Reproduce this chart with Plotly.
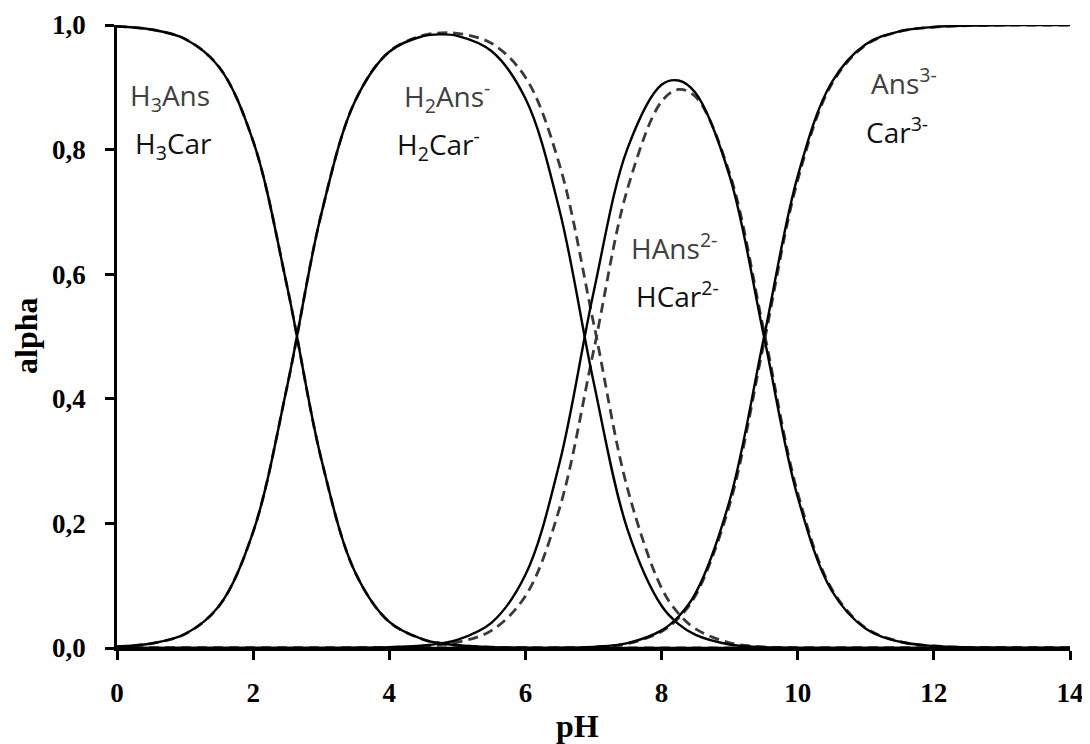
import plotly.graph_objects as go

# pH grid
ph_ans = [0, 0.5, 1, 1.5, 2, 2.5, 3, 3.5, 4, 4.5, 4.75, 5, 5.5, 6, 6.5, 7, 7.5, 8, 8.25, 8.5,
          9, 9.5, 10, 10.5, 11, 11.5, 12, 12.5, 13, 13.5, 14]
h3ans = [0.9977, 0.9928, 0.9776, 0.9324, 0.8136, 0.5798, 0.3038, 0.1212, 0.0418, 0.0136, 0.0076, 0.0043,
         0.0013, 0.0004, 0.0001, 0, 0, 0, 0, 0, 0, 0, 0, 0, 0, 0, 0, 0, 0, 0, 0]
h2ans = [0.0023, 0.0072, 0.0224, 0.0676, 0.1864, 0.4202, 0.6961, 0.8784, 0.9570, 0.9823, 0.9850, 0.9826,
         0.9582, 0.8819, 0.7031, 0.4278, 0.1902, 0.0678, 0.0384, 0.0211, 0.0057, 0.0012, 0.0002, 0, 0, 0,
         0, 0, 0, 0, 0]
hans = [0, 0, 0, 0, 0, 0, 0.0001, 0.0004, 0.0013, 0.0041, 0.0074, 0.0131, 0.0404, 0.1176, 0.2965, 0.5704,
        0.8019, 0.9040, 0.9109, 0.8908, 0.7575, 0.5023, 0.2423, 0.0919, 0.0310, 0.0100, 0.0032, 0.0010,
        0.0003, 0.0001, 0]
ans = [0, 0, 0, 0, 0, 0, 0, 0, 0, 0, 0, 0, 0, 0.00004, 0.0003, 0.0018, 0.0079, 0.0283, 0.0506, 0.0881,
       0.2368, 0.4965, 0.7575, 0.9081, 0.9690, 0.9900, 0.9968, 0.9990, 0.9997, 0.9999, 1.0]

ph_car = [0, 0.5, 1, 1.5, 2, 2.5, 3, 3.5, 4, 4.5, 4.75, 5, 5.5, 6, 6.5, 7, 7.5, 8, 8.25, 8.5,
          9, 9.5, 10, 10.5, 11, 11.5, 12, 12.5, 13, 13.5, 14]
h3car = [0.9977, 0.9928, 0.9776, 0.9324, 0.8136, 0.5798, 0.3038, 0.1212, 0.0418, 0.0136, 0.0077, 0.0043,
         0.0013, 0.0004, 0.0001, 0, 0, 0, 0, 0, 0, 0, 0, 0, 0, 0, 0, 0, 0, 0, 0]
h2car = [0.0023, 0.0072, 0.0224, 0.0676, 0.1864, 0.4202, 0.6961, 0.8785, 0.9573, 0.9836, 0.9873, 0.9867,
         0.9707, 0.9160, 0.7759, 0.5222, 0.2557, 0.0962, 0.0553, 0.0307, 0.0084, 0.0018, 0.0003, 0, 0, 0,
         0, 0, 0, 0, 0]
hcar = [0, 0, 0, 0, 0, 0, 0.0001, 0.0003, 0.0009, 0.0028, 0.0051, 0.0090, 0.0280, 0.0835, 0.2238, 0.4763,
        0.7373, 0.8773, 0.8966, 0.8848, 0.7617, 0.5106, 0.2487, 0.0948, 0.0321, 0.0104, 0.0033, 0.0010,
        0.0003, 0.0001, 0]
car = [0, 0, 0, 0, 0, 0, 0, 0, 0, 0, 0, 0, 0, 0, 0.0002, 0.0014, 0.0070, 0.0265, 0.0482, 0.0845,
       0.2300, 0.4876, 0.7510, 0.9052, 0.9679, 0.9896, 0.9967, 0.9990, 0.9997, 0.9999, 1.0]

x_ticks = [0, 2, 4, 6, 8, 10, 12, 14]
y_ticks = [0.0, 0.2, 0.4, 0.6, 0.8, 1.0]

labels_ans = ["H<sub>3</sub>Ans", "H<sub>2</sub>Ans<sup>-</sup>", "HAns<sup>2-</sup>", "Ans<sup>3-</sup>"]
labels_car = ["H<sub>3</sub>Car", "H<sub>2</sub>Car<sup>-</sup>", "HCar<sup>2-</sup>", "Car<sup>3-</sup>"]
label_ans_x = [0.78, 4.85, 8.18, 11.56]
label_ans_y = [0.885, 0.885, 0.645, 0.91]
label_car_x = [0.83, 4.72, 8.23, 11.46]
label_car_y = [0.808, 0.808, 0.567, 0.83]

fig = go.Figure()
for ys in [h2car, hcar, h3car, car]:
    fig.add_trace(go.Scatter(x=ph_car, y=ys, mode="lines", cliponaxis=False,
                             line=dict(color="#3a3a3a", width=2.8, dash="10px,6px",
                                       shape="spline", smoothing=1.0),
                             hoverinfo="skip", showlegend=False))
for ys in [h3ans, h2ans, hans, ans]:
    fig.add_trace(go.Scatter(x=ph_ans, y=ys, mode="lines", cliponaxis=False,
                             line=dict(color="black", width=2.4, shape="spline", smoothing=1.0),
                             hoverinfo="skip", showlegend=False))

for t, x, y in zip(labels_ans, label_ans_x, label_ans_y):
    fig.add_annotation(x=x, y=y, text=t, showarrow=False,
                       font=dict(family="Open Sans", size=28, color="#404040"))
for t, x, y in zip(labels_car, label_car_x, label_car_y):
    fig.add_annotation(x=x, y=y, text=t, showarrow=False,
                       font=dict(family="Open Sans", size=28, color="#111111"))

tickfont = dict(family="Liberation Serif", size=27, color="black", weight="bold")
titlefont = dict(family="Liberation Serif", size=32, color="black", weight="bold")

# axis titles placed as annotations (paper coords)
fig.add_annotation(x=0.483, y=-0.125, xref="paper", yref="paper", text="pH", showarrow=False,
                   xanchor="center", yanchor="middle", font=titlefont)
fig.add_annotation(x=-0.096, y=0.5, xref="paper", yref="paper", text="alpha", showarrow=False,
                   textangle=-90, xanchor="center", yanchor="middle", font=titlefont)

# the page body adds an 8px margin, so the figure is sized to end at the window edge
fig.update_layout(
    width=1082, height=736,
    margin=dict(l=109, r=20, t=17, b=96, autoexpand=False),
    plot_bgcolor="white", paper_bgcolor="white",
    separators=",.",
    xaxis=dict(range=[0, 14], tickvals=x_ticks, ticks="outside", ticklen=9, tickwidth=2.5,
               tickcolor="black", showline=True, linecolor="black", linewidth=2.5,
               showgrid=False, zeroline=False, tickfont=tickfont, ticklabelstandoff=10,
               automargin=False),
    yaxis=dict(range=[0, 1], tickvals=y_ticks, tickformat=".1f", ticks="outside", ticklen=9,
               tickwidth=2.5, tickcolor="black", showline=True, linecolor="black", linewidth=2.5,
               showgrid=False, zeroline=False, tickfont=tickfont, ticklabelstandoff=14,
               automargin=False),
)

fig.write_html("out.html")
